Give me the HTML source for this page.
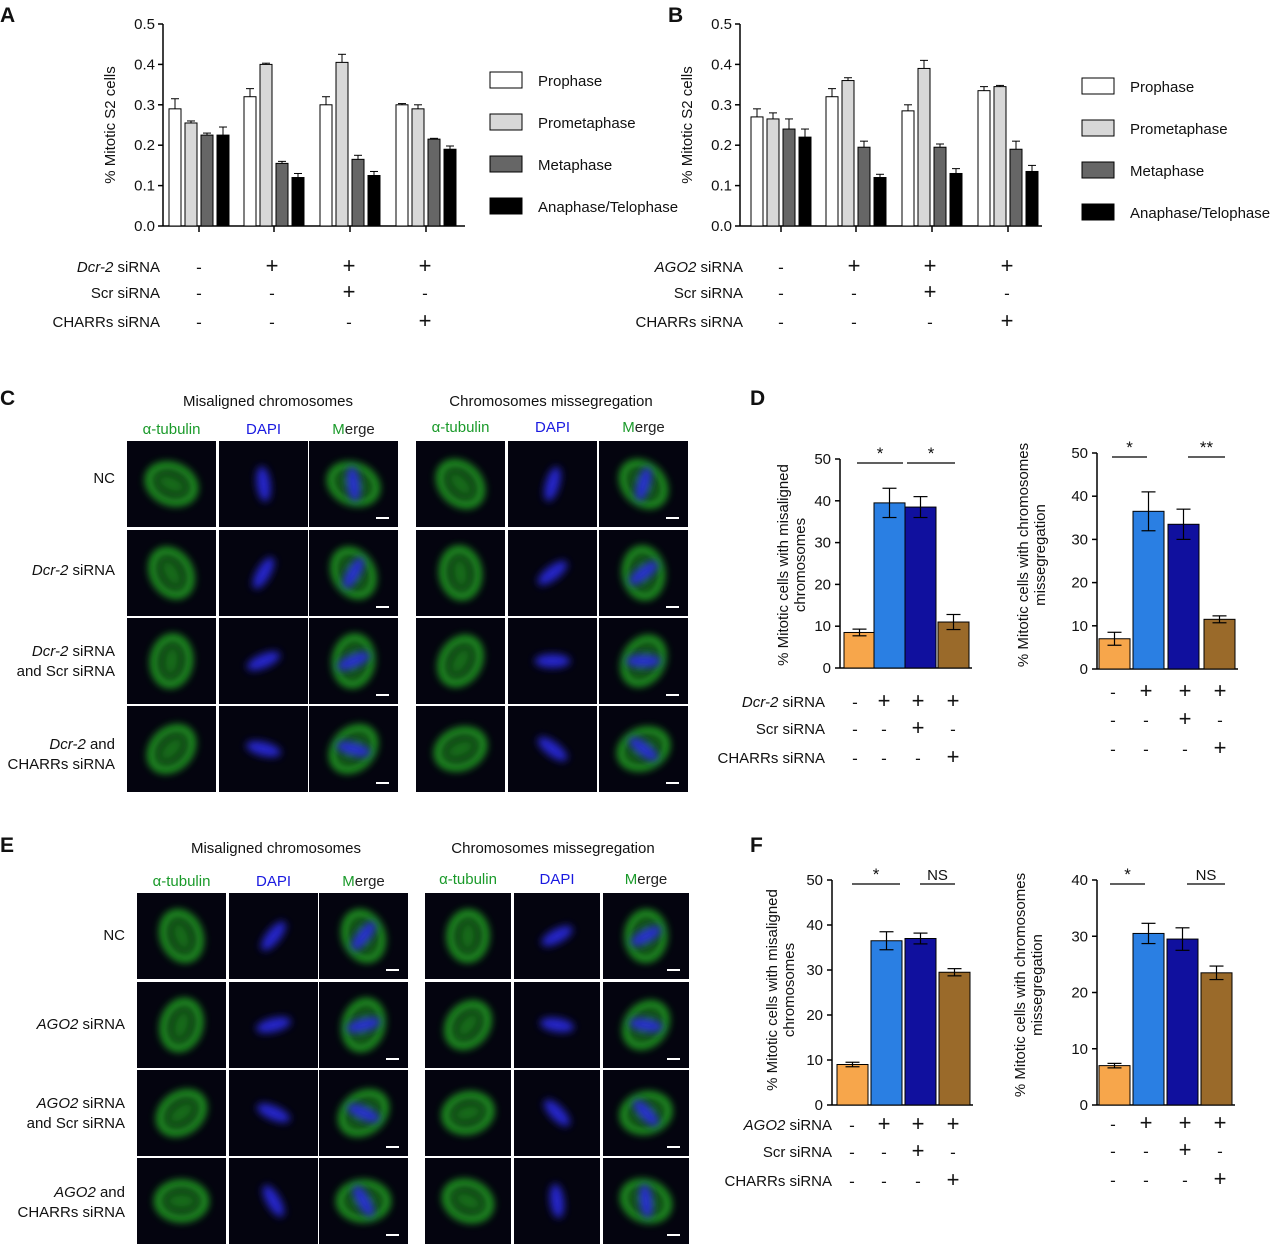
<!DOCTYPE html>
<html><head><meta charset="utf-8">
<style>
body{margin:0;background:#fff;}
svg{display:block;font-family:"Liberation Sans",Arial,sans-serif;}
</style></head>
<body>
<svg id="fig" width="1280" height="1244" viewBox="0 0 1280 1244" xmlns="http://www.w3.org/2000/svg">
<defs>
<filter id="blur6" x="-50%" y="-50%" width="200%" height="200%"><feGaussianBlur stdDeviation="6"/></filter>
<filter id="blur3" x="-50%" y="-50%" width="200%" height="200%"><feGaussianBlur stdDeviation="4"/></filter>
</defs>
</svg>
<script>
// ---- Panel A / B data ----
const phases = ["Prophase","Prometaphase","Metaphase","Anaphase/Telophase"];
const phaseColors = ["#ffffff","#d8d8d8","#666666","#000000"];
const aTicks = ["0.0","0.1","0.2","0.3","0.4","0.5"];
const aValues = [[0.29,0.255,0.225,0.225],[0.32,0.40,0.155,0.12],[0.30,0.405,0.165,0.125],[0.30,0.29,0.215,0.19]];
const aErrors = [[0.025,0.005,0.005,0.02],[0.02,0.003,0.005,0.01],[0.02,0.02,0.01,0.01],[0.003,0.01,0.002,0.008]];
const bValues = [[0.27,0.265,0.24,0.22],[0.32,0.36,0.195,0.12],[0.285,0.39,0.195,0.13],[0.335,0.345,0.19,0.135]];
const bErrors = [[0.02,0.015,0.025,0.02],[0.02,0.007,0.015,0.008],[0.015,0.02,0.008,0.012],[0.01,0.003,0.02,0.015]];
// ---- Panel D / F data ----
const condColors = ["#f7a64b","#2a7fe3","#10109e","#9a6a2a"];
const dLeftValues = [8.5,39.5,38.5,11];
const dLeftErrors = [0.8,3.5,2.5,1.8];
const dRightValues = [7,36.5,33.5,11.5];
const dRightErrors = [1.5,4.5,3.5,0.8];
const fLeftValues = [9,36.5,37,29.5];
const fLeftErrors = [0.5,2,1.2,0.8];
const fRightValues = [7,30.5,29.5,23.5];
const fRightErrors = [0.4,1.8,2,1.2];
const ticks50 = [0,10,20,30,40,50];
const ticks40 = [0,10,20,30,40];

const NS="http://www.w3.org/2000/svg";
const svg=document.getElementById('fig');
function el(tag,attrs,parent){const e=document.createElementNS(NS,tag);for(const k in attrs)e.setAttribute(k,attrs[k]);(parent||svg).appendChild(e);return e;}
function txt(x,y,s,size,anchor,parent,extra){const t=el('text',Object.assign({x:x,y:y,'font-size':size,'text-anchor':anchor||'start',fill:'#111'},extra||{}),parent);t.textContent=s;return t;}

[["A",0,22],["B",668,22],["C",0,405],["D",750,405],["E",0,852],["F",750,852]].forEach(p=>{
  const t=txt(p[1],p[2],p[0],21,'start',null,{'font-weight':'bold'});
  
  
});

function groupChart(name,axX,groupStarts,values,errors,legX,legY0){
  const g=el('g',{});
  
  
  const y0=226,yTop=24,vmax=0.5;
  const ys=v=>y0-(v/vmax)*(y0-yTop);
  el('line',{x1:axX,y1:yTop,x2:axX,y2:y0,stroke:'#000','stroke-width':1.5},g);
  el('line',{x1:axX,y1:y0,x2:axX+302,y2:y0,stroke:'#000','stroke-width':1.5},g);
  aTicks.forEach(t=>{const y=ys(parseFloat(t));el('line',{x1:axX-5,y1:y,x2:axX,y2:y,stroke:'#000','stroke-width':1.5},g);
    const l=txt(axX-8,y+5,t,15,'end',g);});
  const yl=txt(0,0,'% Mitotic S2 cells',15,'middle',g,{transform:`translate(${axX-48},125) rotate(-90)`});
  
  values.forEach((grp,gi)=>{
    const gx=groupStarts[gi];
    el('line',{x1:gx+30,y1:y0,x2:gx+30,y2:y0+6,stroke:'#000','stroke-width':1.5},g);
    grp.forEach((v,bi)=>{
      const x=gx+bi*16,w=12,yt=ys(v);
      const r=el('rect',{x:x,y:yt,width:w,height:y0-yt,fill:phaseColors[bi],stroke:'#000','stroke-width':1},g);
      
      
      const ye=ys(v+errors[gi][bi]);
      el('line',{x1:x+w/2,y1:yt,x2:x+w/2,y2:ye,stroke:'#000','stroke-width':1},g);
      el('line',{x1:x+2,y1:ye,x2:x+w-2,y2:ye,stroke:'#000','stroke-width':1},g);
    });
  });
  phases.forEach((p,i)=>{
    const y=legY0+i*42;
    const r=el('rect',{x:legX,y:y,width:32,height:16,fill:phaseColors[i],stroke:'#000','stroke-width':1},g);
    
    const t=txt(legX+48,y+14,p,15,'start',g);
  });
}
groupChart('chart-a',163,[169,244,320,396],aValues,aErrors,490,72);
groupChart('chart-b',740,[751,826,902,978],bValues,bErrors,1082,78);

function signTable(name,labelX,labels,rowsY,cols,signs,size){
  const g=el('g',{});
  labels.forEach((lab,i)=>{
    const t=el('text',{x:labelX,y:rowsY[i]+5,'font-size':size,'text-anchor':'end',fill:'#111'},g);
    if(lab[0]){const ts=el('tspan',{'font-style':'italic'},t);ts.textContent=lab[0];}
    const ts2=el('tspan',{},t);ts2.textContent=lab[1];
    signs[i].forEach((s,j)=>{txt(cols[j],rowsY[i]+6,s==='+'?'+':'-',s==='+'?22:17,'middle',g);});
  });
}
const signsStd=[["-","+","+","+"],["-","-","+","-"],["-","-","-","+"]];
signTable('sign-table-a',160,[["Dcr-2"," siRNA"],["","Scr siRNA"],["","CHARRs siRNA"]],[267,293,322],[199,272,349,425],signsStd,15);
signTable('sign-table-b',743,[["AGO2"," siRNA"],["","Scr siRNA"],["","CHARRs siRNA"]],[267,293,322],[781,854,930,1007],signsStd,15);
signTable('sign-table-d',825,[["Dcr-2"," siRNA"],["","Scr siRNA"],["","CHARRs siRNA"]],[702,729,758],[855,884,918,953],signsStd,15);
signTable('sign-table-d2',1000,[["",""],["",""],["",""]],[692,720,749],[1113,1146,1185,1220],signsStd,15);
signTable('sign-table-f',832,[["AGO2"," siRNA"],["","Scr siRNA"],["","CHARRs siRNA"]],[1125,1152,1181],[852,884,918,953],signsStd,15);
signTable('sign-table-f2',1000,[["",""],["",""],["",""]],[1124,1151,1180],[1113,1146,1185,1220],signsStd,15);

function barChart(name,axX,y0,yTop,vmax,ticks,barX,barW,values,errors,titleLines,titleX,titleY,sigs){
  const g=el('g',{});
  const ys=v=>y0-(v/vmax)*(y0-yTop);
  el('line',{x1:axX,y1:yTop,x2:axX,y2:y0,stroke:'#000','stroke-width':1.5},g);
  el('line',{x1:axX,y1:y0,x2:barX[3]+barW+3,y2:y0,stroke:'#000','stroke-width':1.5},g);
  ticks.forEach(t=>{const y=ys(t);el('line',{x1:axX-5,y1:y,x2:axX,y2:y,stroke:'#000','stroke-width':1.5},g);
    const l=txt(axX-9,y+5,String(t),15,'end',g);});
  values.forEach((v,i)=>{
    const yt=ys(v);
    const r=el('rect',{x:barX[i],y:yt,width:barW,height:y0-yt,fill:condColors[i],stroke:'#000','stroke-width':1},g);
    
    const cx=barX[i]+barW/2,yh=ys(v+errors[i]),yl=ys(v-errors[i]);
    el('line',{x1:cx,y1:yh,x2:cx,y2:yl,stroke:'#000','stroke-width':1.2},g);
    el('line',{x1:cx-7,y1:yh,x2:cx+7,y2:yh,stroke:'#000','stroke-width':1.2},g);
    el('line',{x1:cx-7,y1:yl,x2:cx+7,y2:yl,stroke:'#000','stroke-width':1.2},g);
  });
  titleLines.forEach((s,i)=>{const t=txt(0,0,s,15,'middle',g,{transform:`translate(${titleX+i*17},${titleY}) rotate(-90)`});
    });
  sigs.forEach(s=>{
    const y=ys(vmax)+4;
    el('line',{x1:s[0],y1:y,x2:s[1],y2:y,stroke:'#000','stroke-width':1.2},g);
    const t=txt((s[0]+s[1])/2,y-4,s[2],s[2]==='NS'?15:17,'middle',g);
    
  });
}
barChart('chart-d-misaligned',840,668,459,50,ticks50,[844,874,905,938],31,dLeftValues,dLeftErrors,["% Mitotic cells with misaligned","chromosomes"],788,565,[[857,903,"*"],[907,955,"*"]]);
barChart('chart-d-missegregation',1097,669,453,50,ticks50,[1099,1133,1168,1204],31,dRightValues,dRightErrors,["% Mitotic cells with chromosomes","missegregation"],1028,555,[[1112,1147,"*"],[1188,1225,"**"]]);
barChart('chart-f-misaligned',832,1105,880,50,ticks50,[837,871,905,939],31,fLeftValues,fLeftErrors,["% Mitotic cells with misaligned","chromosomes"],777,990,[[852,900,"*"],[920,955,"NS"]]);
barChart('chart-f-missegregation',1097,1105,880,40,ticks40,[1099,1133,1167,1201],31,fRightValues,fRightErrors,["% Mitotic cells with chromosomes","missegregation"],1025,985,[[1110,1145,"*"],[1187,1225,"NS"]]);

function micro(name,colsX,colW,rowsY,rowH,header,headerX,headerY,colLabelY,seed){
  const g=el('g',{});
  const h=txt(headerX,headerY,header,15,'middle',g);
  const cl=[["α-tubulin","#1a9a2a"],["DAPI","#1a1ae0"]];
  cl.forEach((c,i)=>{const t=txt(colsX[i]+colW/2,colLabelY,c[0],15,'middle',g,{fill:c[1]});});
  const m=el('text',{x:colsX[2]+colW/2,y:colLabelY,'font-size':15,'text-anchor':'middle',fill:'#222'},g);
  const m1=el('tspan',{fill:'#1a9a2a'},m);m1.textContent='M';const m2=el('tspan',{},m);m2.textContent='erge';
  rowsY.forEach((ry,ri)=>{
    colsX.forEach((cx,ci)=>{
      const c=el('g',{},g);
      el('rect',{x:cx,y:ry,width:colW,height:rowH,fill:'#04040f'},c);
      const mx=cx+colW/2,my=ry+rowH/2;
      const rot=(ri*37+seed*23)%180;
      if(ci!==1){
        el('ellipse',{cx:mx,cy:my,rx:colW*0.26,ry:rowH*0.2,fill:'none',stroke:'#2cc02c','stroke-width':8,filter:'url(#blur3)',transform:`rotate(${rot} ${mx} ${my})`,opacity:0.8},c);
        el('ellipse',{cx:mx,cy:my,rx:colW*0.22,ry:rowH*0.13,fill:'#1c8c1c',filter:'url(#blur6)',transform:`rotate(${rot} ${mx} ${my})`,opacity:0.8},c);
      }
      if(ci!==0){
        el('ellipse',{cx:mx,cy:my,rx:colW*0.2,ry:rowH*0.08,fill:'#2a2ae0',filter:'url(#blur3)',transform:`rotate(${rot+60} ${mx} ${my})`,opacity:0.9},c);
      }
      if(ci===2) el('rect',{x:cx+colW-22,y:ry+rowH-10,width:13,height:2,fill:'#fff'},c);
    });
  });
}
micro('micrographs-c-misaligned',[127,219,309],89,[441,530,618,706],86,'Misaligned chromosomes',268,406,434,1);
micro('micrographs-c-missegregation',[416,508,599],89,[441,530,618,706],86,'Chromosomes missegregation',551,406,432,2);
micro('micrographs-e-misaligned',[137,229,319],89,[893,982,1070,1158],86,'Misaligned chromosomes',276,853,886,3);
micro('micrographs-e-missegregation',[425,514,603],86,[893,982,1070,1158],86,'Chromosomes missegregation',553,853,884,4);

function rowLabels(name,x,items){
  const g=el('g',{});
  items.forEach(it=>{
    it.lines.forEach((ln,i)=>{
      const t=el('text',{x:x,y:it.y+i*20,'font-size':15,'text-anchor':'end',fill:'#111'},g);
      if(ln[0]){const a=el('tspan',{'font-style':'italic'},t);a.textContent=ln[0];}
      const b=el('tspan',{},t);b.textContent=ln[1];
    });
  });
}
rowLabels('row-labels-c',115,[{y:483,lines:[["","NC"]]},{y:575,lines:[["Dcr-2"," siRNA"]]},{y:656,lines:[["Dcr-2"," siRNA"],["","and Scr siRNA"]]},{y:749,lines:[["Dcr-2"," and"],["","CHARRs siRNA"]]}]);
rowLabels('row-labels-e',125,[{y:940,lines:[["","NC"]]},{y:1029,lines:[["AGO2"," siRNA"]]},{y:1108,lines:[["AGO2"," siRNA"],["","and Scr siRNA"]]},{y:1197,lines:[["AGO2"," and"],["","CHARRs siRNA"]]}]);
</script>
</body></html>
